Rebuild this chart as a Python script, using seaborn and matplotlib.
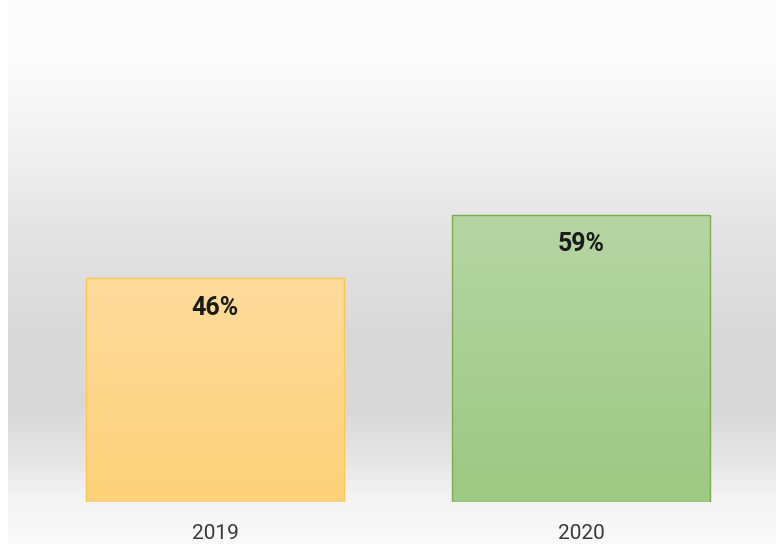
import matplotlib
matplotlib.use("Agg")
import matplotlib.pyplot as plt
import seaborn as sns
import numpy as np
import pandas as pd
from matplotlib.colors import LinearSegmentedColormap

years = ["2019", "2020"]
values = [46, 59]
labels = ["46%", "59%"]
top_colors = ["#fedb9c", "#b6d5a3"]
bottom_colors = ["#fdd27a", "#9cc983"]
edge_colors = ["#f8c850", "#78ad50"]

sns.set_theme(style="white")
plt.rcParams['font.family'] = ['Roboto', 'DejaVu Sans']

W, H = 776, 544
fig = plt.figure(figsize=(W / 100, H / 100), dpi=100)
fig.patch.set_facecolor("white")

# background gradient
bg = fig.add_axes([8 / W, 0, 1 - 8 / W, 1])
bg.set_axis_off()
stops = [(0.0, "#fdfdfd"), (0.12, "#fbfbfb"), (0.27, "#f1f1f1"), (0.45, "#e2e2e2"),
         (0.60, "#dadada"), (0.75, "#d8d8d8"), (0.85, "#e6e6e6"), (0.92, "#f4f4f4"), (1.0, "#fafafa")]
cmap_bg = LinearSegmentedColormap.from_list("bg", stops)
grad = np.linspace(0, 1, 256).reshape(-1, 1)
bg.imshow(grad, aspect="auto", cmap=cmap_bg, extent=[0, 1, 0, 1], origin="upper")
bg.set_xlim(0, 1)
bg.set_ylim(0, 1)

ax = fig.add_axes([32 / W, (H - 502) / H, 732 / W, 487 / H])
ax.patch.set_alpha(0)
df = pd.DataFrame({"year": years, "value": values})
sns.barplot(data=df, x="year", y="value", ax=ax, width=0.705, palette=top_colors,
            hue="year", legend=False, saturation=1)
ax.set_xlim(-0.5, 1.5)
ax.set_ylim(0, 100)

for i, p in enumerate(ax.patches):
    x0, y0 = p.get_x(), p.get_y()
    w, h = p.get_width(), p.get_height()
    cm = LinearSegmentedColormap.from_list("b%d" % i, [top_colors[i], bottom_colors[i]])
    im = ax.imshow(grad, aspect="auto", cmap=cm, extent=[x0, x0 + w, y0, y0 + h],
                   origin="upper", zorder=p.get_zorder() + 0.1)
    im.set_clip_path(p)
    p.set_edgecolor(edge_colors[i])
    p.set_linewidth(1.0)
    p.set_zorder(p.get_zorder() + 0.2)
    p.set_facecolor("none")
    ax.text(x0 + w / 2, values[i] - 6.1, labels[i], ha="center", va="center",
            fontsize=18, fontweight="bold", color="#1a1a1a")

ax.set_xlim(-0.5, 1.5)
ax.set_ylim(0, 100)
ax.set_xlabel("")
ax.set_ylabel("")
ax.set_yticks([])
ax.tick_params(axis="x", length=0, pad=16, labelsize=15, labelcolor="#3a3a3a")
for s in ax.spines.values():
    s.set_visible(False)

fig.savefig("out.png", dpi=100)
